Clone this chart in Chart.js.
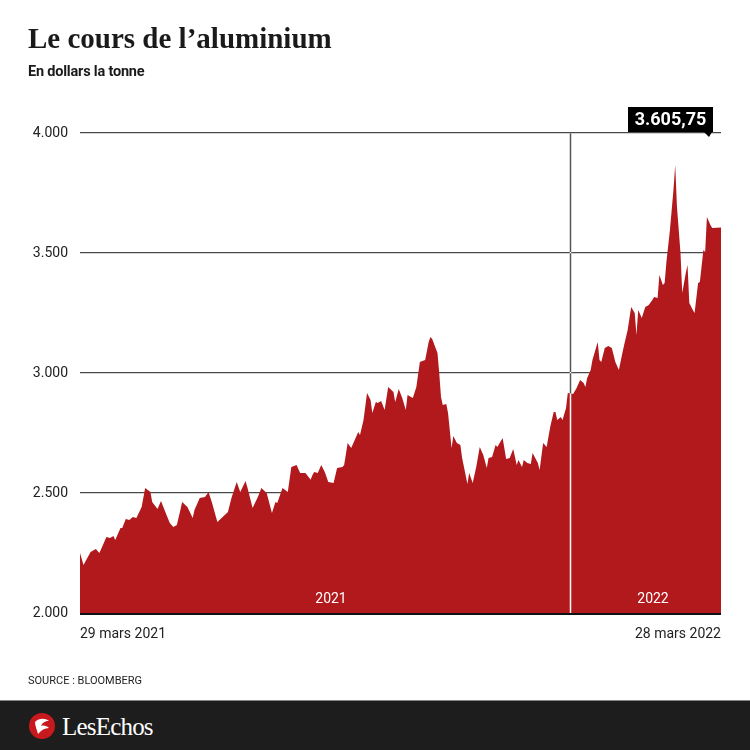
<!DOCTYPE html>
<html lang="fr">
<head>
<meta charset="utf-8">
<title>Le cours de l’aluminium</title>
<script src="https://cdn.jsdelivr.net/npm/chart.js@4.4.1/dist/chart.umd.min.js"></script>
<style>
  html, body { margin: 0; padding: 0; background: #fff; }
  #wrap { position: relative; width: 750px; height: 750px; overflow: hidden; font-family: Roboto, sans-serif; color: #222; }
  #c { position: absolute; left: 0; top: 0; }
  .txt { position: absolute; white-space: nowrap; line-height: 1; }
  #title { left: 28px; top: 24px; font-family: "Liberation Serif", serif; font-weight: bold; font-size: 29px; color: #1a1a1a; }
  #subtitle { left: 28px; top: 65px; font-size: 14.5px; font-weight: bold; color: #1a1a1a; letter-spacing: -0.2px; }
  .xlab { top: 626px; font-size: 14px; color: #222; }
  .year { top: 591px; font-size: 14px; color: #fff; transform: translateX(-50%); }
  #source { left: 28px; top: 675px; font-size: 11px; color: #222; }
  #footer { position: absolute; left: 0; top: 700px; width: 750px; height: 50px; background: #1d1d1d; border-top: 1px solid #888; }
  #logo { position: absolute; left: 29px; top: 12px; width: 26px; height: 26px; border-radius: 50%; background: #c8191e; }
  #brand { left: 62px; top: 13px; font-family: "Liberation Serif", serif; font-size: 25px; color: #fff; letter-spacing: -0.8px; }
</style>
</head>
<body>
<div id="wrap">
  <canvas id="c" width="750" height="750"></canvas>
  <div class="txt" id="title">Le cours de l’aluminium</div>
  <div class="txt" id="subtitle">En dollars la tonne</div>
  <div class="txt year" style="left:331px">2021</div>
  <div class="txt year" style="left:653px">2022</div>
  <div class="txt xlab" style="left:80px">29 mars 2021</div>
  <div class="txt xlab" style="right:29px">28 mars 2022</div>
  <div class="txt" id="source">SOURCE : BLOOMBERG</div>
  <div id="footer">
    <div id="logo">
      <svg width="26" height="26" viewBox="0 0 26 26">
        <path d="M6 9 C10 5, 16 5, 20 8 C16 8, 13 10, 12 13 C15 12, 18 13, 20 15 C16 15, 12 17, 9 21 C8 17, 6 13, 6 9 Z" fill="#fff"/>
      </svg>
    </div>
    <div class="txt" id="brand">LesEchos</div>
  </div>
</div>

<script>
// Jours écoulés depuis le 29 mars 2021 (0) jusqu'au 28 mars 2022 (364)
const days = [
  0, 2, 6, 9, 11, 15, 17, 19, 20, 23, 24, 26, 28, 30, 32, 35, 37, 40, 41, 44,
  46, 48, 51, 53, 55, 57, 58, 61, 64, 65, 68, 71, 73, 75, 78, 81, 84, 86, 89, 91,
  94, 95, 98, 101, 103, 106, 109, 111, 112, 115, 118, 120, 123, 125, 128, 131, 132, 133, 135, 137,
  139, 141, 144, 146, 149, 150, 152, 154, 156, 158, 159, 161, 163, 165, 166, 168, 169, 171, 173, 175,
  178, 179, 181, 183, 185, 186, 189, 191, 193, 196, 198, 199, 200, 203, 204, 205, 206, 208, 209, 211,
  212, 214, 216, 217, 220, 221, 223, 225, 227, 229, 231, 232, 234, 236, 237, 240, 242, 244, 246, 248,
  249, 251, 252, 254, 256, 257, 260, 261, 263, 265, 267, 269, 270, 271, 273, 274, 276, 277, 280, 282,
  284, 286, 287, 288, 290, 291, 294, 295, 296, 298, 300, 302, 304, 306, 308, 309, 311, 313, 315, 316,
  317, 319, 321, 323, 325, 326, 328, 329, 331, 332, 333, 335, 337, 338, 339, 341, 342, 344, 345, 346,
  348, 349, 351, 352, 354, 355, 356, 358, 359, 364
];

// Cours en dollars la tonne
const prices = [
  2250, 2200, 2254, 2267, 2250, 2317, 2312, 2321, 2304, 2354, 2354, 2392, 2388, 2400, 2396, 2442, 2521, 2504, 2463, 2433,
  2467, 2429, 2375, 2358, 2367, 2429, 2463, 2442, 2396, 2429, 2479, 2483, 2504, 2458, 2379, 2400, 2421, 2479, 2546, 2504,
  2550, 2525, 2437, 2483, 2521, 2500, 2417, 2463, 2458, 2521, 2504, 2608, 2617, 2583, 2583, 2555, 2575, 2588, 2583, 2617,
  2588, 2546, 2542, 2604, 2608, 2617, 2708, 2688, 2721, 2754, 2742, 2804, 2917, 2888, 2833, 2879, 2875, 2883, 2846, 2942,
  2921, 2879, 2933, 2896, 2846, 2908, 2896, 2942, 3046, 3054, 3129, 3150, 3142, 3083, 3000, 2900, 2867, 2871, 2833, 2688,
  2738, 2708, 2700, 2646, 2538, 2583, 2542, 2608, 2692, 2658, 2604, 2646, 2650, 2700, 2692, 2729, 2642, 2646, 2683, 2617,
  2638, 2608, 2638, 2625, 2621, 2667, 2625, 2596, 2708, 2692, 2775, 2838, 2838, 2804, 2817, 2804, 2854, 2917, 2913, 2938,
  2971, 2958, 2942, 2979, 3013, 3054, 3129, 3054, 3046, 3104, 3113, 3104, 3046, 3013, 3083, 3117, 3179, 3275, 3250, 3158,
  3263, 3229, 3275, 3283, 3304, 3317, 3313, 3408, 3367, 3375, 3463, 3596, 3763, 3867, 3692, 3500, 3333, 3417, 3450, 3292,
  3263, 3250, 3375, 3379, 3513, 3504, 3650, 3617, 3604, 3605.75
];

const yTicks = [2000, 2500, 3000, 3500, 4000];
const yearStart2022 = 278; // 1er janvier 2022

const fmtThousands = n => String(Math.trunc(n)).replace(/\B(?=(\d{3})+(?!\d))/g, '.');
const fmtPrice = n => fmtThousands(n) + ',' + n.toFixed(2).split('.')[1];

// ligne verticale du changement d'année : grise au-dessus de la courbe, blanche dans l'aire
const yearLine = {
  id: 'yearLine',
  afterDatasetsDraw(chart) {
    const { ctx, chartArea, scales } = chart;
    const x = Math.round(scales.x.getPixelForValue(yearStart2022)) + 0.5;
    ctx.save();
    ctx.lineWidth = 1.5;
    ctx.globalCompositeOperation = 'source-atop';
    ctx.strokeStyle = '#ffffff';
    ctx.beginPath(); ctx.moveTo(x, chartArea.top); ctx.lineTo(x, chartArea.bottom); ctx.stroke();
    ctx.globalCompositeOperation = 'destination-over';
    ctx.strokeStyle = '#555555';
    ctx.beginPath(); ctx.moveTo(x, chartArea.top); ctx.lineTo(x, chartArea.bottom); ctx.stroke();
    ctx.restore();
  }
};

// étiquette noire du dernier cours
const lastCallout = {
  id: 'lastCallout',
  afterDraw(chart) {
    const { ctx, chartArea, scales } = chart;
    const last = prices[prices.length - 1];
    const right = chartArea.right - 8;
    const bottom = scales.y.getPixelForValue(4000) - 1;
    const w = 85, h = 25;
    ctx.save();
    ctx.fillStyle = '#000';
    ctx.fillRect(right - w, bottom - h, w, h);
    ctx.beginPath();
    ctx.moveTo(right - 9, bottom);
    ctx.lineTo(right - 1, bottom);
    ctx.lineTo(right - 4, bottom + 5);
    ctx.closePath();
    ctx.fill();
    ctx.fillStyle = '#fff';
    ctx.font = 'bold 18px Roboto';
    ctx.textAlign = 'center';
    ctx.textBaseline = 'middle';
    ctx.fillText(fmtPrice(last), right - w / 2, bottom - h / 2 + 1);
    ctx.restore();
  }
};

const ctx = document.getElementById('c').getContext('2d');
new Chart(ctx, {
  type: 'line',
  data: {
    datasets: [{
      data: days.map((d, i) => ({ x: d, y: prices[i] })),
      fill: 'start',
      backgroundColor: '#b2191c',
      borderWidth: 0,
      pointRadius: 0,
      tension: 0
    }]
  },
  options: {
    responsive: false,
    animation: false,
    layout: { padding: { top: 133, right: 29, bottom: 137, left: 0 } },
    plugins: { legend: { display: false }, tooltip: { enabled: false } },
    scales: {
      x: { type: 'linear', min: 0, max: 364, display: false },
      y: {
        min: 2000, max: 4000, z: 1,
        afterFit: s => { s.width = 80; },
        afterBuildTicks: s => { s.ticks = yTicks.map(v => ({ value: v })); },
        border: { display: false },
        grid: {
          drawTicks: false,
          color: c => c.tick.value === 2000 ? '#111' : '#4a4a4a',
          lineWidth: c => c.tick.value === 2000 ? 3 : 1.3
        },
        ticks: {
          padding: 12,
          color: '#222',
          font: { family: 'Roboto', size: 14 },
          callback: v => fmtThousands(v)
        }
      }
    }
  },
  plugins: [yearLine, lastCallout]
});
</script>
</body>
</html>
